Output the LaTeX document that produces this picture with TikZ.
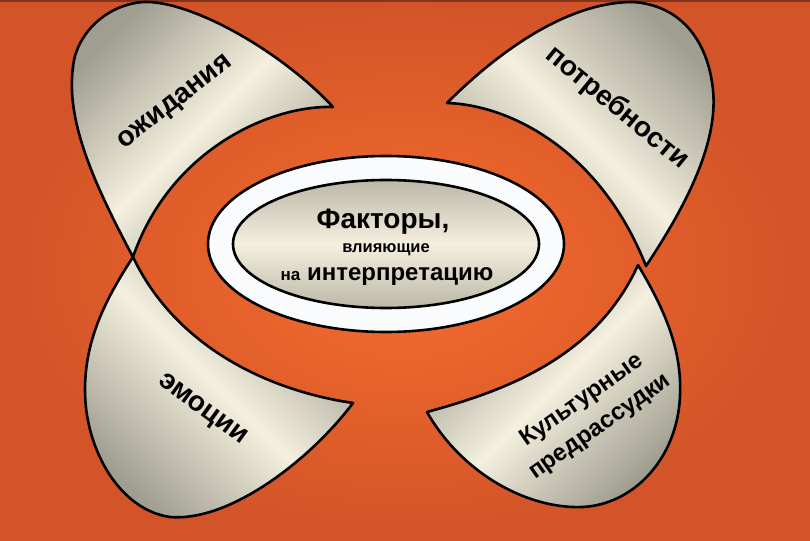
\documentclass[tikz,border=0pt]{standalone}
\usepackage{fontspec}
\setmainfont{Liberation Sans}
\usetikzlibrary{shapes.geometric}

\definecolor{bgorange}{RGB}{246,108,46}
\definecolor{bgdark}{RGB}{210,84,40}
\definecolor{topline}{RGB}{130,52,28}
\definecolor{petalgray}{RGB}{160,158,144}
\definecolor{petalcream}{RGB}{244,239,222}
\definecolor{coregray}{RGB}{188,184,168}
\definecolor{ringwhite}{RGB}{250,251,252}

\tikzset{
  petal/.style={draw=black,line width=2.6pt,line join=round,%
    left color=petalgray,right color=petalgray,middle color=petalcream},
  petaltext/.style={font=\bfseries\fontsize{28}{30}\selectfont,inner sep=0pt},
  coretext/.style={font=\bfseries,inner sep=0pt},
}

\begin{document}
\begin{tikzpicture}[x=1pt,y=-1pt]
      % ここまでをバウンディングボックス内とする
      \useasboundingbox (0,0) rectangle (810,540);

      % 背景
      \shade[inner color=bgorange,outer color=bgdark] (0,0) rectangle (810,540);
      \fill[topline] (0,0) rectangle (810,2.5);

      % 花びら（左上、右上、左下、右下）
      \draw[petal,shading angle=45] (133,257)
        .. controls (92,180) and (66,120) .. (73,67)
        .. controls (76,35) and (105,5) .. (143,2)
        .. controls (190,0) and (280,50) .. (333,107)
        .. controls (270,105) and (170,150) .. cycle;
      \draw[petal,shading angle=135] (646,266)
        .. controls (690,200) and (718,140) .. (713,90)
        .. controls (708,40) and (680,5) .. (633,2)
        .. controls (565,2) and (495,55) .. (447,103)
        .. controls (510,105) and (600,150) .. cycle;
      \draw[petal,shading angle=135] (133,257)
        .. controls (105,300) and (85,340) .. (85,390)
        .. controls (85,450) and (120,510) .. (170,517)
        .. controls (230,522) and (310,460) .. (353,403)
        .. controls (265,390) and (175,345) .. cycle;
      \draw[petal,shading angle=45] (638,265)
        .. controls (665,310) and (682,350) .. (680,395)
        .. controls (678,460) and (630,510) .. (573,507)
        .. controls (520,505) and (460,470) .. (427,412)
        .. controls (500,392) and (595,360) .. cycle;

      \node[petaltext,rotate=38] (expect) at (176,103) {ожидания};
      \node[petaltext,rotate=-39.5] (needs) at (617,108) {потребности};
      \node[petaltext,rotate=-36] (emotions) at (202,410) {эмоции};
      \node[petaltext,rotate=35,align=center,%
        font=\bfseries\fontsize{24}{32}\selectfont] (culture) at (591,414) {%
        Культурные\\предрассудки};

      % 中央の楕円
      \node[ellipse,draw=black,line width=2.6pt,fill=ringwhite,%
        minimum width=356pt,minimum height=176pt,inner sep=0pt] (ring) at (386,244) {};
      \node[ellipse,draw=black,line width=2.6pt,%
        top color=coregray,bottom color=coregray,middle color=petalcream,%
        minimum width=306pt,minimum height=128pt,inner sep=0pt] (core) at (386,244) {};

      \node[coretext,font=\bfseries\fontsize{28}{30}\selectfont] (title) at (383,222) {Факторы,};
      \node[coretext,font=\bfseries\fontsize{16.5}{18}\selectfont] (sub) at (386,250) {влияющие};
      \node[coretext,font=\bfseries\fontsize{24}{26}\selectfont] (interp) at (387,277) {%
        {\fontsize{17}{19}\selectfont на} интерпретацию};
    \end{tikzpicture}
\end{document}
